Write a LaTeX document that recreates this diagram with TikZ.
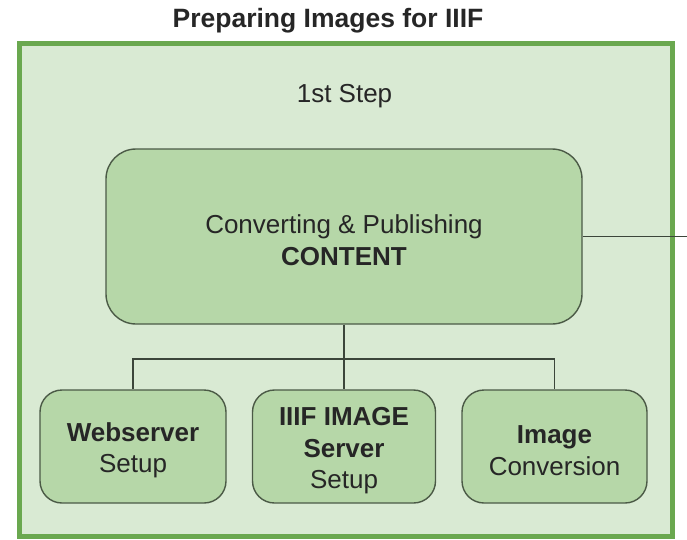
\documentclass[tikz,border=0pt]{standalone}
\usepackage{fontspec}
\setmainfont{Liberation Sans}
\usetikzlibrary{positioning}
\definecolor{framegreen}{HTML}{6AA84F}
\definecolor{framefill}{HTML}{D9EAD3}
\definecolor{boxfill}{HTML}{B6D7A8}
\definecolor{boxline}{HTML}{4B5A46}
\definecolor{linkgray}{HTML}{3C463A}

\begin{document}
\begin{tikzpicture}[x=1pt,y=-1pt,
  labeltext/.style={font=\fontsize{26}{31.5}\selectfont,align=center,text=black!85},
  task/.style={draw=boxline,line width=1.4pt,fill=boxfill,rounded corners=22pt,inner sep=0pt,minimum height=113pt,labeltext},
  twolines/.style={text height=58pt},
  threelines/.style={text height=90pt},
  link/.style={draw=linkgray,line width=1.6pt}]
\useasboundingbox (0,0) rectangle (687,539);
% ---- outer frame and headings ----
\node[draw=framegreen,line width=4.5pt,fill=framefill,minimum width=653pt,minimum height=493pt,inner sep=0pt] (frame) at (346,290) {};
\node[anchor=base,labeltext,font=\fontsize{26.5}{31.5}\selectfont\bfseries] (title) at (328,27) {Preparing Images for IIIF};
\node[anchor=base,labeltext] (steplabel) at (344.5,102) {1st Step};
% ---- main step ----
\node[task,twolines,minimum width=476pt,minimum height=175pt,rounded corners=30pt] (content) at (344,236.5) {Converting \& Publishing\\\textbf{CONTENT}};
% ---- sub tasks ----
\node[task,twolines,minimum width=186pt] (webserver) at (133,446.5) {\textbf{Webserver}\\Setup};
\node[task,threelines,minimum width=183pt] (imageserver) at (344,446.5) {\textbf{IIIF IMAGE}\\\textbf{Server}\\Setup};
\node[task,twolines,minimum width=185pt] (conversion) at (554.5,446.5) {\textbf{Image}\\Conversion};
% ---- connectors ----
\coordinate (bus) at (344,359);
\coordinate (exit) at (687,236.5);
\draw[link] (content.south) -- (imageserver.north);
\draw[link] (webserver.north) |- (bus) -| (conversion.north);
\draw[link] (content.east) -- (exit);
\end{tikzpicture}
\end{document}
